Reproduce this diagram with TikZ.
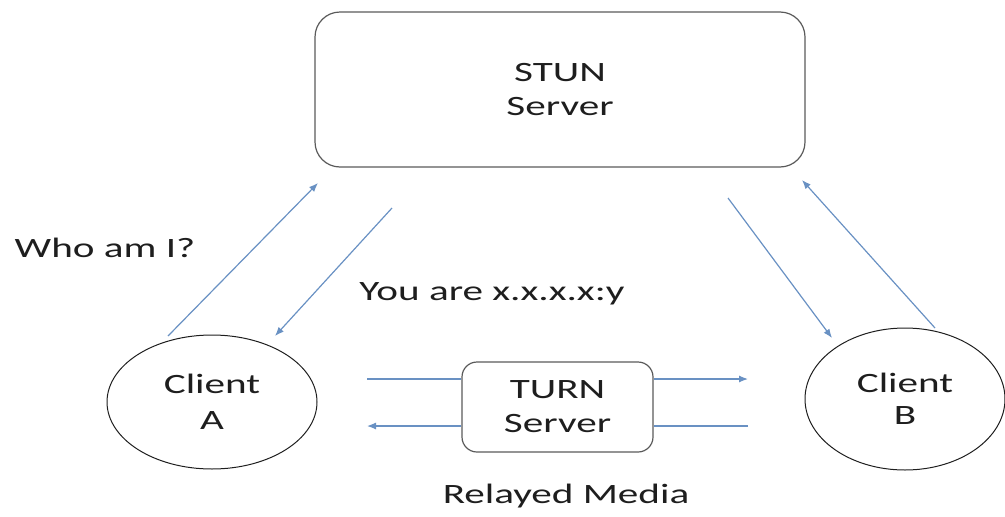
\documentclass[tikz,border=0pt]{standalone}
\usepackage{fontspec}
\setmainfont[FakeStretch=1.47]{Carlito}
\usetikzlibrary{arrows.meta,shapes.geometric}
\definecolor{arr}{RGB}{105,145,195}
\definecolor{txt}{RGB}{30,30,30}
\definecolor{edge}{RGB}{90,90,90}
\begin{document}
\begin{tikzpicture}[x=1pt,y=-1pt,
  every node/.style={text=txt,font=\fontsize{28}{34}\selectfont},
  srvbox/.style={draw=edge,line width=1.2pt,align=center,inner sep=0pt},
  client/.style={draw=txt,ellipse,line width=1pt,align=center,inner sep=0pt},
  conn/.style={draw=arr,line width=1.2pt},
  tip/.style={conn,-{Latex[length=9pt,width=7pt]}}]
\useasboundingbox (0,0) rectangle (1005,517);
\node[srvbox,rounded corners=25pt,minimum width=490pt,minimum height=155pt] (stun) at (560,89.5) {STUN\\Server};
\node[srvbox,rounded corners=15pt,minimum width=191pt,minimum height=90pt] (turn) at (557.5,407) {TURN\\Server};
\node[client,minimum width=210pt,minimum height=134pt] (ca) at (212,402) {Client\\[2pt]A};
\node[client,minimum width=200pt,minimum height=142pt] (cb) at (905,399) {Client\\[-2pt]B};
\node[anchor=base] (who) at (105,257) {Who am I?};
\node[anchor=base] (you) at (492,300) {You are x.x.x.x:y};
\node[anchor=base] (relay) at (566,503) {Relayed Media};
\coordinate (a1s) at (168,336);
\coordinate (a1e) at (318,183);
\coordinate (a2s) at (392,208);
\coordinate (a2e) at (275,336);
\coordinate (b1s) at (728,198);
\coordinate (b1e) at (832,338);
\coordinate (b2s) at (935,328);
\coordinate (b2e) at (802,180);
\coordinate (t1s) at (367,379);
\coordinate (t1e) at (748,379);
\coordinate (t2s) at (748,426);
\coordinate (t2e) at (367,426);
\draw[tip] (a1s) -- (a1e);
\draw[tip] (a2s) -- (a2e);
\draw[tip] (b1s) -- (b1e);
\draw[tip] (b2s) -- (b2e);
\draw[conn] (t1s) -- (t1s -| turn.west);
\draw[tip] (t1e -| turn.east) -- (t1e);
\draw[conn] (t2s) -- (t2s -| turn.east);
\draw[tip] (t2e -| turn.west) -- (t2e);
\end{tikzpicture}
\end{document}
